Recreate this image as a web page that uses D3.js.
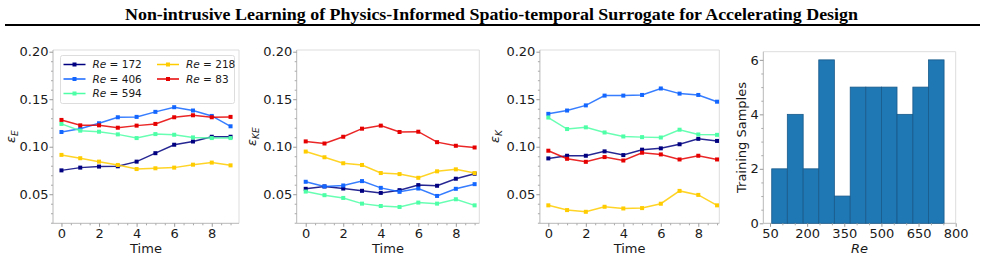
<!DOCTYPE html>
<html lang="en">
<head>
<meta charset="utf-8">
<title>Surrogate errors</title>
<script src="https://cdn.jsdelivr.net/npm/d3@7"></script>
<style>
  body { margin: 0; background: #fff; }
  text { font-family: "DejaVu Sans", sans-serif; fill: #1a1a1a; }
</style>
</head>
<body>
<script>
// data
var times = [0, 1, 2, 3, 4, 5, 6, 7, 8, 9];
var reLabels = ["172", "406", "594", "218", "83"];
var lineColors = ["#000080", "#1366ff", "#4dffa6", "#ffcc00", "#e60000"];

// epsilon_E, one row per Re (same order as reLabels)
var errE = [
  [0.0751, 0.0780, 0.0791, 0.0794, 0.0843, 0.0932, 0.1021, 0.1055, 0.1105, 0.1105],
  [0.1155, 0.1190, 0.1247, 0.1310, 0.1314, 0.1367, 0.1416, 0.1381, 0.1324, 0.1215],
  [0.1240, 0.1169, 0.1158, 0.1130, 0.1091, 0.1133, 0.1126, 0.1098, 0.1091, 0.1091],
  [0.0914, 0.0879, 0.0843, 0.0808, 0.0765, 0.0773, 0.0780, 0.0811, 0.0833, 0.0804],
  [0.1282, 0.1225, 0.1225, 0.1200, 0.1222, 0.1240, 0.1310, 0.1331, 0.1310, 0.1314]
];
// epsilon_KE
var errKE = [
  [0.0557, 0.0582, 0.0560, 0.0536, 0.0514, 0.0543, 0.0596, 0.0589, 0.0663, 0.0716],
  [0.0631, 0.0582, 0.0592, 0.0638, 0.0567, 0.0525, 0.0560, 0.0482, 0.0557, 0.0606],
  [0.0528, 0.0490, 0.0461, 0.0401, 0.0376, 0.0366, 0.0412, 0.0401, 0.0447, 0.0383],
  [0.0949, 0.0889, 0.0826, 0.0808, 0.0723, 0.0712, 0.0673, 0.0741, 0.0762, 0.0723],
  [0.1056, 0.1034, 0.1105, 0.1190, 0.1222, 0.1155, 0.1158, 0.1048, 0.1010, 0.0992]
];
// epsilon_K
var errK = [
  [0.0877, 0.0905, 0.0905, 0.0951, 0.0912, 0.0969, 0.0983, 0.1026, 0.1083, 0.1061],
  [0.1346, 0.1381, 0.1435, 0.1538, 0.1538, 0.1545, 0.1613, 0.1559, 0.1545, 0.1474],
  [0.1307, 0.1186, 0.1204, 0.1150, 0.1108, 0.1101, 0.1097, 0.1179, 0.1129, 0.1125],
  [0.0383, 0.0333, 0.0315, 0.0368, 0.0350, 0.0354, 0.0400, 0.0535, 0.0493, 0.0383],
  [0.0958, 0.0873, 0.0841, 0.0891, 0.0855, 0.0937, 0.0919, 0.0866, 0.0905, 0.0866]
];

var yTicks = [0.05, 0.10, 0.15, 0.20];
var xTicks = [0, 2, 4, 6, 8];

// histogram of training Re
var binEdges = [57, 120, 184, 247, 310, 374, 437, 500, 563, 627, 690, 753];
var binCounts = [2, 4, 2, 6, 1, 5, 5, 5, 4, 5, 6];
var reTicks = [50, 200, 350, 500, 650, 800];
var countTicks = [0, 2, 4, 6];

var titleText = "Non-intrusive Learning of Physics-Informed Spatio-temporal Surrogate for Accelerating Design";

var w = 985, h = 259;
var svg = d3.select("body").append("svg")
  .attr("width", w)
  .attr("height", h);

// header
svg.append("text")
  .attr("x", 125).attr("y", 20)
  .attr("textLength", 733)
  .attr("lengthAdjust", "spacingAndGlyphs")
  .style("font-family", "'Liberation Serif', 'Times New Roman', serif")
  .style("font-weight", "bold")
  .style("font-size", "17px")
  .style("fill", "#000")
  .text(titleText);
svg.append("line")
  .attr("x1", 5).attr("x2", 980)
  .attr("y1", 25).attr("y2", 25)
  .attr("stroke", "#000").attr("stroke-width", 2);

var plotTop = 50, plotBottom = 223.3;

function frame(g, x, y) {
  var x0 = x.range()[0], x1 = x.range()[1];
  var y0 = y.range()[0], y1 = y.range()[1];
  g.append("line").attr("x1", x0).attr("x2", x1).attr("y1", y1).attr("y2", y1)
    .attr("stroke", "#dddddd").attr("stroke-width", 1);
  g.append("line").attr("x1", x1).attr("x2", x1).attr("y1", y0).attr("y2", y1)
    .attr("stroke", "#dddddd").attr("stroke-width", 1);
  g.append("line").attr("x1", x0).attr("x2", x1).attr("y1", y0).attr("y2", y0)
    .attr("stroke", "#b8b8b8").attr("stroke-width", 1);
  g.append("line").attr("x1", x0).attr("x2", x0).attr("y1", y0).attr("y2", y1)
    .attr("stroke", "#b8b8b8").attr("stroke-width", 1);
}

function axes(g, x, y, xt, yt, xMinor, yMinor, yFmt) {
  var x0 = x.range()[0], yb = y.range()[0];
  var gx = g.append("g").attr("transform", "translate(0," + yb + ")")
    .call(d3.axisBottom(x).tickValues(xMinor).tickSize(2).tickFormat(""));
  gx.select(".domain").remove();
  gx.selectAll("line").attr("stroke", "#aaa");
  gx = g.append("g").attr("transform", "translate(0," + yb + ")")
    .call(d3.axisBottom(x).tickValues(xt).tickSize(3.5).tickPadding(1.5).tickFormat(d3.format("d")));
  gx.select(".domain").remove();
  gx.selectAll("line").attr("stroke", "#999");
  gx.selectAll("text").style("font-size", "13px").attr("fill", "#1a1a1a");

  var gy = g.append("g").attr("transform", "translate(" + x0 + ",0)")
    .call(d3.axisLeft(y).tickValues(yMinor).tickSize(2).tickFormat(""));
  gy.select(".domain").remove();
  gy.selectAll("line").attr("stroke", "#aaa");
  gy = g.append("g").attr("transform", "translate(" + x0 + ",0)")
    .call(d3.axisLeft(y).tickValues(yt).tickSize(3.5).tickPadding(1).tickFormat(yFmt));
  gy.select(".domain").remove();
  gy.selectAll("line").attr("stroke", "#999");
  gy.selectAll("text").style("font-size", "13px").attr("fill", "#1a1a1a");
}

function epsLabel(g, xPos, yPos, sub) {
  var t = g.append("text")
    .attr("transform", "translate(" + xPos + "," + yPos + ") rotate(-90)")
    .attr("text-anchor", "middle")
    .style("font-size", "13px");
  t.append("tspan").style("font-style", "italic").text("\u03b5");
  t.append("tspan").style("font-style", "italic").style("font-size", "9px")
    .attr("dy", 3).text(sub);
}

var panels = [
  { data: errE, sub: "E", r: [53, 239], d: [-0.45, 9.45], lab: 15, legend: true },
  { data: errKE, sub: "KE", r: [296.7, 479.3], d: [-0.48, 9.25], lab: 256 },
  { data: errK, sub: "K", r: [539.9, 719.3], d: [-0.45, 9.12], lab: 499 }
];

var yMinorTicks = d3.range(2, 21).map(function(v) { return v / 100; })
  .filter(function(v) { return Math.round(v * 100) % 5 !== 0; });
var xMinorTicks = [0.5, 1, 1.5, 2.5, 3, 3.5, 4.5, 5, 5.5, 6.5, 7, 7.5, 8.5, 9];

panels.forEach(function(p) {
  var g = svg.append("g");
  var x = d3.scaleLinear().domain(p.d).range(p.r);
  var y = d3.scaleLinear().domain([0.0194, 0.2018]).range([plotBottom, plotTop]);
  var xm = xMinorTicks.filter(function(v) { return v <= p.d[1]; });
  var ym = yMinorTicks.filter(function(v) { return v >= 0.0194; });
  frame(g, x, y);
  axes(g, x, y, xTicks, yTicks, xm, ym, d3.format(".2f"));

  var line = d3.line()
    .x(function(d, i) { return x(times[i]); })
    .y(function(d) { return y(d); });

  p.data.forEach(function(vals, k) {
    g.append("path")
      .attr("d", line(vals))
      .attr("fill", "none")
      .attr("stroke", lineColors[k])
      .attr("stroke-width", 1.5)
      .attr("stroke-opacity", 0.85);
    g.selectAll(null).data(vals).enter().append("rect")
      .attr("x", function(d, i) { return x(times[i]) - 2; })
      .attr("y", function(d) { return y(d) - 2; })
      .attr("width", 4).attr("height", 4)
      .attr("fill", lineColors[k]);
  });

  epsLabel(g, p.lab, (plotTop + plotBottom) / 2, p.sub);
  g.append("text")
    .attr("x", (p.r[0] + p.r[1]) / 2).attr("y", 252.5)
    .attr("text-anchor", "middle")
    .style("font-size", "13px")
    .text("Time");

  if (p.legend) {
    var lg = g.append("g");
    lg.append("rect")
      .attr("x", 60.5).attr("y", 55.5).attr("width", 174).attr("height", 48)
      .attr("rx", 2)
      .attr("fill", "#fff").attr("fill-opacity", 0.8)
      .attr("stroke", "#dddddd");
    reLabels.forEach(function(lab, k) {
      var col = k < 3 ? 0 : 1;
      var row = k < 3 ? k : k - 3;
      var lx = col === 0 ? 63.5 : 157;
      var ly = 64.5 + row * 14.5;
      lg.append("line")
        .attr("x1", lx).attr("x2", lx + 22).attr("y1", ly).attr("y2", ly)
        .attr("stroke", lineColors[k]).attr("stroke-width", 1.5);
      lg.append("rect")
        .attr("x", lx + 9).attr("y", ly - 2).attr("width", 4).attr("height", 4)
        .attr("fill", lineColors[k]);
      var t = lg.append("text")
        .attr("x", lx + 29).attr("y", ly + 3.7)
        .style("font-size", "10.5px");
      t.append("tspan").style("font-style", "italic").text("Re");
      t.append("tspan").text(" = " + lab);
    });
  }
});

// histogram panel
(function() {
  var g = svg.append("g");
  var x = d3.scaleLinear().domain([23, 800]).range([763.3, 955.7]);
  var y = d3.scaleLinear().domain([0, 6.3]).range([plotBottom, 51.7]);
  frame(g, x, y);

  g.selectAll(null).data(binCounts).enter().append("rect")
    .attr("x", function(d, i) { return x(binEdges[i]); })
    .attr("y", function(d) { return y(d); })
    .attr("width", function(d, i) { return x(binEdges[i + 1]) - x(binEdges[i]); })
    .attr("height", function(d) { return y(0) - y(d); })
    .attr("fill", "#1f77b4")
    .attr("stroke", "#195a8a")
    .attr("stroke-width", 0.8);

  var xm = d3.range(100, 800, 50).filter(function(v) { return (v - 50) % 150 !== 0; });
  var ym = [0.5, 1, 1.5, 2.5, 3, 3.5, 4.5, 5, 5.5];
  axes(g, x, y, reTicks, countTicks, xm, ym, d3.format("d"));

  g.append("text")
    .attr("transform", "translate(745.5," + (plotBottom + 51.7) / 2 + ") rotate(-90)")
    .attr("text-anchor", "middle")
    .style("font-size", "13px")
    .text("Training Samples");
  g.append("text")
    .attr("x", 859.5).attr("y", 252.5)
    .attr("text-anchor", "middle")
    .style("font-size", "13px")
    .style("font-style", "italic")
    .text("Re");
})();
</script>
</body>
</html>
